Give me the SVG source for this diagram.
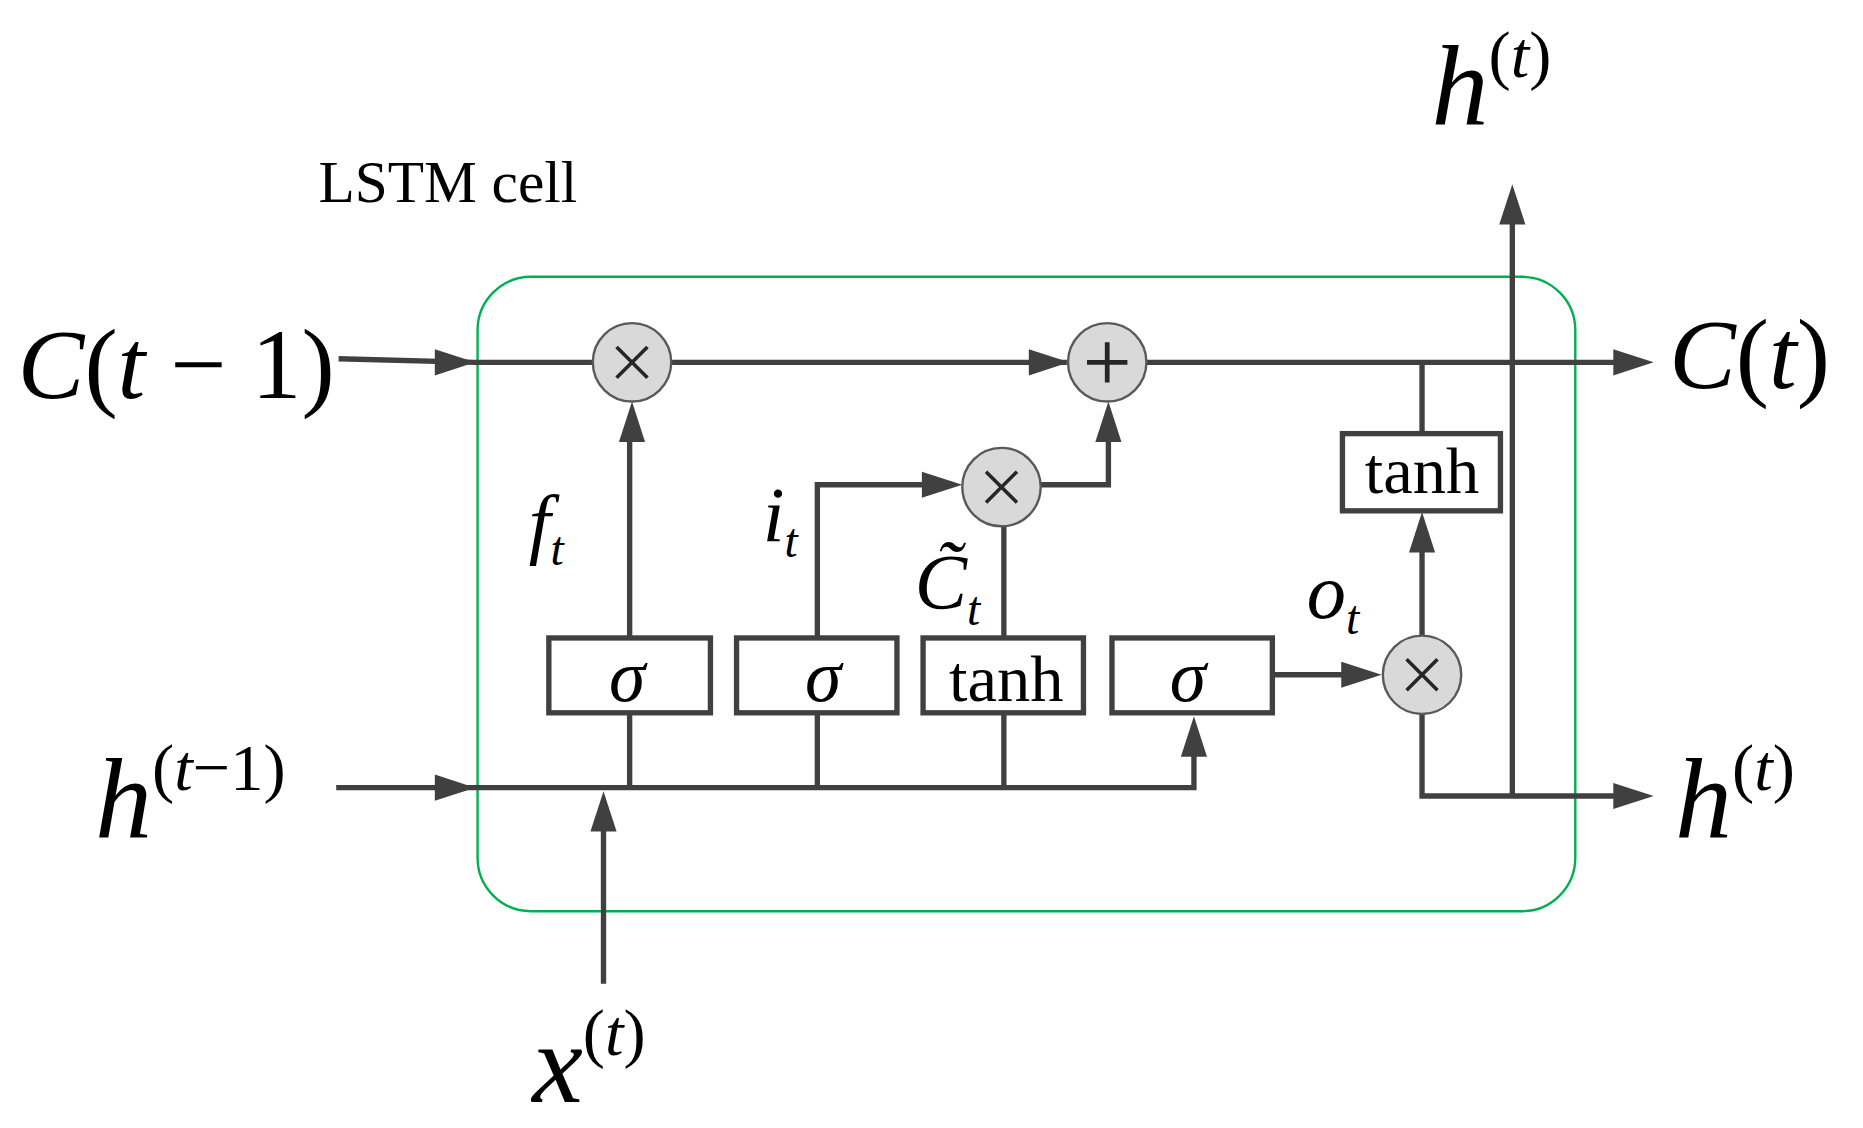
<svg xmlns="http://www.w3.org/2000/svg" width="1863" height="1128" viewBox="0 0 1863 1128">
<defs>
<path id="ah" d="M0,0 L-34,-11 L-34,11 Z" fill="#404040"/>
<style>
.l{stroke:#404040;stroke-width:4.5;fill:none}
.b{fill:#fff;stroke:#404040;stroke-width:4.5}
.c{fill:#d9d9d9;stroke:#595959;stroke-width:2}
.s{stroke:#262626;stroke-width:3;fill:none}
text{font-family:"Liberation Serif","Times New Roman",serif;fill:#000}
.i{font-style:italic}
</style>
</defs>
<rect width="1863" height="1128" fill="#fff"/>
<g transform="scale(1.188)">
<rect x="402" y="233" width="924" height="534" rx="45" fill="none" stroke="#00b050" stroke-width="2"/>
<g id="connectors">
<path class="l" d="M285,302 L400,305 L499,305"/>
<use href="#ah" transform="translate(400,305)"/>
<path class="l" d="M565,305 L898,305"/>
<use href="#ah" transform="translate(900,305)"/>
<path class="l" d="M965,305 L1360,305"/>
<use href="#ah" transform="translate(1392,305)"/>
<path class="l" d="M283,663 L1005,663 L1005,620"/>
<use href="#ah" transform="translate(400,663)"/>
<use href="#ah" transform="translate(1005,603) rotate(-90)"/>
<path class="l" d="M508,828 L508,690"/>
<use href="#ah" transform="translate(508,666) rotate(-90)"/>
<path class="l" d="M530,663 L530,600"/>
<path class="l" d="M530,537 L530,360"/>
<use href="#ah" transform="translate(532,338) rotate(-90)"/>
<path class="l" d="M688,663 L688,600"/>
<path class="l" d="M688,537 L688,408 L790,408"/>
<use href="#ah" transform="translate(810,408)"/>
<path class="l" d="M845,663 L845,600 M845,537 L845,443"/>
<path class="l" d="M876,408 L933,408 L933,360"/>
<use href="#ah" transform="translate(933,338) rotate(-90)"/>
<path class="l" d="M1071,568 L1140,568"/>
<use href="#ah" transform="translate(1163,568)"/>
<path class="l" d="M1197,535 L1197,450"/>
<use href="#ah" transform="translate(1197,431) rotate(-90)"/>
<path class="l" d="M1197,365 L1197,305"/>
<path class="l" d="M1197,601 L1197,670 L1360,670"/>
<use href="#ah" transform="translate(1392,670)"/>
<path class="l" d="M1273,670 L1273,180"/>
<use href="#ah" transform="translate(1273,155) rotate(-90)"/>
</g>
<g id="mul1"><circle class="c" cx="532" cy="305" r="33"/><path class="s" d="M519,292L545,318M545,292L519,318"/></g>
<g id="add"><circle class="c" cx="932" cy="305" r="33"/><path class="s" d="M932,288V322M915,305H949" style="stroke-width:4"/></g>
<g id="mul2"><circle class="c" cx="843" cy="410" r="33"/><path class="s" d="M830,397L856,423M856,397L830,423"/></g>
<g id="mul3"><circle class="c" cx="1197" cy="568" r="33"/><path class="s" d="M1184,555L1210,581M1210,555L1184,581"/></g>
<g id="sig1"><rect class="b" x="462" y="537" width="136" height="63"/><text class="i" x="528" y="590" font-size="62" text-anchor="middle">σ</text></g>
<g id="sig2"><rect class="b" x="620" y="537" width="135" height="63"/><text class="i" x="693" y="590" font-size="62" text-anchor="middle">σ</text></g>
<g id="tanh1"><rect class="b" x="777" y="537" width="135" height="63"/><text x="847" y="590" font-size="56" text-anchor="middle">tanh</text></g>
<g id="sig3"><rect class="b" x="936" y="537" width="135" height="63"/><text class="i" x="1000" y="590" font-size="62" text-anchor="middle">σ</text></g>
<g id="tanh2"><rect class="b" x="1130" y="365" width="133" height="65"/><text x="1197" y="415" font-size="56" text-anchor="middle">tanh</text></g>
<g id="labels">
<text x="268" y="170" font-size="50">LSTM cell</text>
<text x="15" y="335" font-size="84"><tspan class="i">C</tspan>(<tspan class="i">t</tspan> − 1)</text>
<text x="1405" y="327" font-size="84"><tspan class="i">C</tspan>(<tspan class="i">t</tspan>)</text>
<text x="80" y="705" font-size="96"><tspan class="i">h</tspan><tspan font-size="56" dy="-40">(<tspan class="i">t</tspan>−1)</tspan></text>
<text x="1410" y="705" font-size="96"><tspan class="i">h</tspan><tspan font-size="56" dy="-40">(<tspan class="i">t</tspan>)</tspan></text>
<text x="1205" y="105" font-size="96"><tspan class="i">h</tspan><tspan font-size="56" dy="-40">(<tspan class="i">t</tspan>)</tspan></text>
<text x="448" y="928" font-size="96"><tspan class="i">x</tspan><tspan font-size="56" dy="-40">(<tspan class="i">t</tspan>)</tspan></text>
<text class="i" x="445" y="462" font-size="66">f<tspan font-size="40" dy="14">t</tspan></text>
<text class="i" x="642" y="455" font-size="66">i<tspan font-size="40" dy="14">t</tspan></text>
<text class="i" x="770" y="512" font-size="66">C̃<tspan font-size="40" dy="14">t</tspan></text>
<text class="i" x="1100" y="520" font-size="66">o<tspan font-size="40" dy="14">t</tspan></text>
</g>
</g>
</svg>
